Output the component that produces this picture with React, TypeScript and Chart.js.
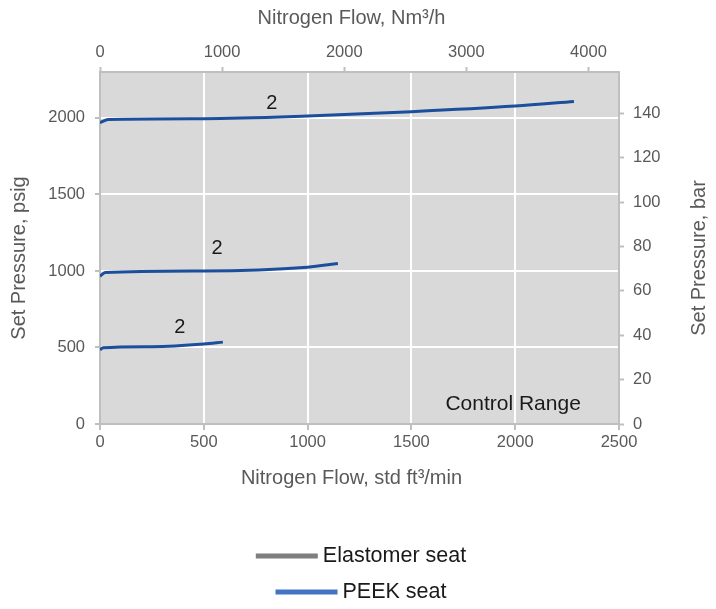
import React, { useEffect, useRef } from 'react';
import { Chart, registerables } from 'chart.js';

Chart.register(...registerables);

// ---- Data (std ft3/min vs psig) ----
const flowA = [0, 40, 500, 1000, 1500, 2000, 2283];
const psigA = [1969, 1990, 1995, 2012, 2041, 2078, 2107];

const flowB = [0, 25, 500, 1000, 1146];
const psigB = [965, 990, 1000, 1025, 1049];

const flowC = [0, 15, 250, 500, 592];
const psigC = [485, 498, 505, 522, 535];

// annotations placed in data coordinates
const noteTexts = ['2', '2', '2', 'Control Range'];
const noteX = [828, 564, 385, 1990];
const noteY = [2096, 1146, 629, 131];

// axes
const xMax = 2500; // std ft3/min
const yMax = 2300; // psig
const nm3PerScfm = 1.7;
const psigPerBar = 14.5038;

const xTicks = [0, 500, 1000, 1500, 2000, 2500];
const x2Ticks = [0, 1000, 2000, 3000, 4000];
const yTicks = [0, 500, 1000, 1500, 2000];
const y2Ticks = [0, 20, 40, 60, 80, 100, 120, 140];

const xTitle = 'Nitrogen Flow, std ft\u00B3/min';
const x2Title = 'Nitrogen Flow, Nm\u00B3/h';
const yTitle = 'Set Pressure, psig';
const y2Title = 'Set Pressure, bar';

const legendLabels = ['Elastomer seat', 'PEEK seat'];
const legendColors = ['#7f7f7f', '#4472c4'];

const FONT = "'Liberation Sans', Arial, Helvetica, sans-serif";
const TICK_COLOR = '#595959';
const AXIS_COLOR = '#bfbfbf';
const LINE_COLOR = '#1b4f9c';

const toPts = (xs: number[], ys: number[]) => xs.map((x, i) => ({ x, y: ys[i] }));
const setTicks = (vals: number[]) => (s: any) => {
  s.ticks = vals.map((v) => ({ value: v }));
};
const plain = (v: any) => String(v);

export default function App() {
  const ref = useRef<HTMLCanvasElement>(null);

  useEffect(() => {
    if (!ref.current) return;

    const bgPlugin = {
      id: 'plotBg',
      beforeDraw(chart: any) {
        const { ctx, chartArea } = chart;
        ctx.save();
        ctx.fillStyle = '#d9d9d9';
        ctx.fillRect(chartArea.left, chartArea.top, chartArea.right - chartArea.left, chartArea.bottom - chartArea.top);
        ctx.restore();
      },
    };

    const overlayPlugin = {
      id: 'overlay',
      afterDraw(chart: any) {
        const { ctx, chartArea } = chart;
        const xs = chart.scales.x;
        const ys = chart.scales.y;
        ctx.save();
        // notes
        ctx.fillStyle = '#1a1a1a';
        ctx.textAlign = 'center';
        ctx.textBaseline = 'middle';
        noteTexts.forEach((t, i) => {
          ctx.font = `${t.length > 2 ? 21 : 20}px ${FONT}`;
          ctx.fillText(t, xs.getPixelForValue(noteX[i]), ys.getPixelForValue(noteY[i]));
        });

        // axis titles
        ctx.fillStyle = TICK_COLOR;
        ctx.font = `20px ${FONT}`;
        const cx = (chartArea.left + chartArea.right) / 2 - 8;
        const cy = (chartArea.top + chartArea.bottom) / 2 + 10;
        ctx.fillText(x2Title, cx, 10);
        ctx.fillText(xTitle, cx, chartArea.bottom + 54);
        ctx.save();
        ctx.translate(11, cy);
        ctx.rotate(-Math.PI / 2);
        ctx.fillText(yTitle, 0, 0);
        ctx.restore();
        ctx.save();
        ctx.translate(chart.width - 9, cy);
        ctx.rotate(-Math.PI / 2);
        ctx.fillText(y2Title, 0, 0);
        ctx.restore();

        // legend
        ctx.font = `21.5px ${FONT}`;
        ctx.textAlign = 'left';
        const lcx = chart.width / 2 + 3;
        const rows = [548, 584];
        legendLabels.forEach((lab, i) => {
          const tw = ctx.measureText(lab).width;
          const total = 62 + 5 + tw;
          const sx = lcx - total / 2;
          ctx.fillStyle = legendColors[i];
          ctx.fillRect(sx, rows[i] - 2.5, 62, 5);
          ctx.fillStyle = '#1a1a1a';
          ctx.fillText(lab, sx + 67, rows[i]);
        });
        ctx.restore();
      },
    };

    const tickFont = { family: FONT, size: 16.5 };

    const chart = new Chart(ref.current, {
      type: 'line',
      data: {
        datasets: [
          { label: 'PEEK seat', data: toPts(flowA, psigA), borderColor: LINE_COLOR, borderWidth: 3, pointRadius: 0, cubicInterpolationMode: 'monotone', xAxisID: 'x', yAxisID: 'y' },
          { label: 'PEEK seat', data: toPts(flowB, psigB), borderColor: LINE_COLOR, borderWidth: 3, pointRadius: 0, cubicInterpolationMode: 'monotone', xAxisID: 'x', yAxisID: 'y' },
          { label: 'PEEK seat', data: toPts(flowC, psigC), borderColor: LINE_COLOR, borderWidth: 3, pointRadius: 0, cubicInterpolationMode: 'monotone', xAxisID: 'x', yAxisID: 'y' },
        ],
      },
      options: {
        animation: false,
        responsive: true,
        maintainAspectRatio: false,
        layout: { padding: { top: 0, left: 0, right: 0, bottom: 113 } },
        plugins: { legend: { display: false }, tooltip: { enabled: false } },
        scales: {
          x: {
            type: 'linear',
            position: 'bottom',
            min: 0,
            max: xMax,
            afterBuildTicks: setTicks(xTicks),
            ticks: { color: TICK_COLOR, font: tickFont, padding: 3, maxRotation: 0, autoSkip: false, callback: plain },
            grid: { color: (c: any) => (c.tick && (c.tick.value === 0 || c.tick.value === xMax) ? 'rgba(0,0,0,0)' : '#ffffff'), lineWidth: 2, tickColor: AXIS_COLOR, tickLength: 6, tickWidth: 2 },
            border: { color: AXIS_COLOR, width: 2 },
            afterFit: (s: any) => { s.height = 64; },
          },
          x2: {
            type: 'linear',
            position: 'top',
            min: 0,
            max: xMax * nm3PerScfm,
            afterBuildTicks: setTicks(x2Ticks),
            ticks: { color: TICK_COLOR, font: tickFont, padding: 5, maxRotation: 0, autoSkip: false, callback: plain },
            grid: { drawOnChartArea: false, tickColor: AXIS_COLOR, tickLength: 5, tickWidth: 2 },
            border: { color: AXIS_COLOR, width: 2 },
            afterFit: (s: any) => { s.height = 64; },
          },
          y: {
            type: 'linear',
            position: 'left',
            min: 0,
            max: yMax,
            afterBuildTicks: setTicks(yTicks),
            ticks: { color: TICK_COLOR, font: tickFont, padding: 10, autoSkip: false, callback: plain },
            grid: { color: (c: any) => (c.tick && c.tick.value === 0 ? 'rgba(0,0,0,0)' : '#ffffff'), lineWidth: 2, tickColor: AXIS_COLOR, tickLength: 5, tickWidth: 2 },
            border: { color: AXIS_COLOR, width: 2 },
            afterFit: (s: any) => { s.width = 92; },
          },
          y2: {
            type: 'linear',
            position: 'right',
            min: 0,
            max: yMax / psigPerBar,
            afterBuildTicks: setTicks(y2Ticks),
            ticks: { color: TICK_COLOR, font: tickFont, padding: 9, autoSkip: false, callback: plain },
            grid: { drawOnChartArea: false, tickColor: AXIS_COLOR, tickLength: 5, tickWidth: 2 },
            border: { color: AXIS_COLOR, width: 2 },
            afterFit: (s: any) => { s.width = 89; },
          },
        },
      } as any,
      plugins: [bgPlugin, overlayPlugin],
    });

    return () => chart.destroy();
  }, []);

  return (
    <div style={{ position: 'relative', width: 700, height: 593 }}>
      <canvas ref={ref} />
    </div>
  );
}
